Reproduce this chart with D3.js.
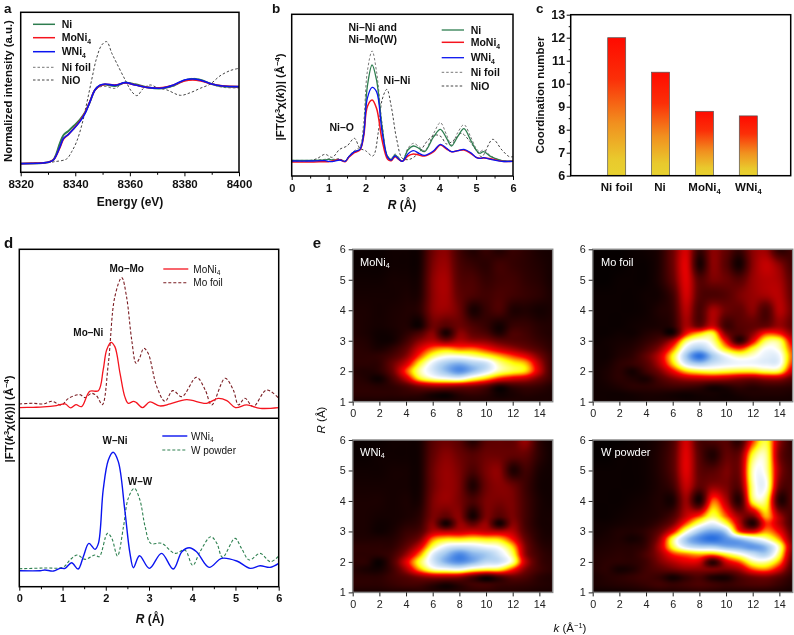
<!DOCTYPE html>
<html><head><meta charset="utf-8">
<script src="https://cdn.jsdelivr.net/npm/d3@7/dist/d3.min.js"></script>
<style>
html,body{margin:0;padding:0;background:#fff}
svg{display:block;font-family:"Liberation Sans",Arial,sans-serif;filter:blur(.3px)}
text{fill:#111}
</style></head><body><svg id="c" width="794" height="635"></svg>
<script>
// ---------- panel a ----------
const aEnergy=[8320,8328,8330,8332,8334.4,8335.7,8337.5,8339.3,8341.7,8343.6,8345.4,8347.2,8349,8350.9,8354.6,8358.3,8362,8367,8372,8376,8380,8383,8386,8390,8394,8400];
const aNi=[26,28,30,38,88,112,124,138,158,180,212,247,260,263,259,269,264,254,252,260,276,280,277,265,258,256];
const aMoNi4=[26,28,30,37,75,100,114,130,154,179,213,247,260,264,262,268,262,254,254,262,274,277,274,265,259,257];
const aWNi4=[26,28,30,37,77,102,114,129,152,177,212,247,261,265,261,269,262,254,253,262,277,280,276,265,259,257];
const aNiFoil=[26,28,30,38,88,112,124,138,158,180,212,245,256,258,252,271,262,255,253,258,276,282,278,264,255,253];
const aEnergyNiO=[8320,8330,8332.5,8336.8,8338.7,8340.5,8342.4,8344.2,8346,8347.8,8349.7,8351.5,8353.4,8355.2,8358.3,8360.7,8362.6,8365,8367.5,8370,8373.6,8378.5,8382.2,8385.8,8389.5,8393,8396.7,8400];
const aNiO=[26,29,32,40,62,92,142,207,277,342,382,392,357,327,277,242,230,252,262,254,247,231,239,252,265,289,305,312];
// ---------- panel b ----------
const bR=[0,.5,.9,1.0,1.1,1.3,1.45,1.55,1.7,1.85,1.95,2.05,2.18,2.3,2.45,2.6,2.7,2.8,2.9,3.0,3.15,3.3,3.45,3.6,3.85,4.03,4.2,4.33,4.5,4.67,4.85,5.0,5.1,5.2,5.4,5.7,6];
const bNi=[47,47,48,50,48,49,44,58,73,80,128,268,333,288,148,58,50,63,53,44,78,90,83,73,118,140,113,90,118,142,108,78,68,73,58,46,45];
const bMoNi4=[42,42,43,43,45,49,43,56,70,78,118,208,228,203,108,50,46,58,50,44,60,66,63,60,73,93,81,73,76,78,68,56,53,54,52,44,44];
const bWNi4=[45,45,46,44,43,48,44,58,73,80,123,233,266,253,133,56,48,60,51,44,66,76,68,62,76,95,83,73,76,80,70,56,53,55,50,44,44];
const bNiFoil=[47,47,50,52,50,52,44,60,76,88,158,313,375,313,158,60,53,66,56,44,83,98,88,76,128,160,123,93,130,154,118,83,73,78,60,46,45];
const bRNiO=[0,.5,.7,.9,1.1,1.3,1.5,1.7,1.85,2.0,2.2,2.35,2.45,2.58,2.7,2.85,3.0,3.2,3.45,3.7,3.9,4.05,4.2,4.4,4.6,4.8,5.0,5.15,5.45,5.7,5.9,6];
const bNiO=[45,46,53,65,56,80,90,113,83,76,60,133,228,260,208,108,53,50,70,108,123,118,96,108,128,108,78,58,110,78,58,58];
// ---------- panel c ----------
const cCategories=["Ni foil","Ni","MoNi4","WNi4"];
const cValues=[12,10.5,8.8,8.6];
// ---------- panel d ----------
const dRMoNi4=[0,.32,.56,.86,1.06,1.19,1.31,1.44,1.63,1.83,1.94,2.02,2.12,2.21,2.33,2.44,2.52,2.64,2.71,2.85,3.02,3.25,3.49,3.87,4.33,4.6,4.8,5.0,5.26,5.57,6];
const dMoNi4=[32,33,34,38,43,31,41,35,81,83,145,205,228,215,135,65,45,51,47,32,49,37,43,56,45,60,53,32,40,30,32];
const dRMoFoil=[0,.32,.56,.75,.98,1.13,1.40,1.52,1.67,1.79,1.92,2.06,2.21,2.37,2.48,2.6,2.7,2.78,2.88,2.98,3.18,3.37,3.55,3.76,4.1,4.3,4.45,4.76,4.95,5.07,5.22,5.41,5.72,6];
const dMoFoil=[43,45,43,51,40,59,71,62,75,67,41,165,365,422,365,235,165,180,210,195,95,51,83,65,123,85,40,120,85,40,60,35,85,60];
const dRWNi4=[0,.48,.59,.79,.94,1.06,1.21,1.36,1.48,1.61,1.75,1.83,1.94,2.06,2.17,2.29,2.44,2.56,2.64,2.78,3.01,3.29,3.56,3.76,3.93,4.1,4.39,4.68,5.03,5.34,5.57,5.8,6];
const dWNi4=[48,48,50,47,55,55,72,53,90,130,112,130,290,380,403,375,230,100,57,93,55,100,53,105,117,105,58,85,77,55,63,58,70];
const dRWPowder=[0,.56,1.02,1.17,1.34,1.52,1.75,1.85,2.04,2.14,2.27,2.41,2.52,2.66,2.79,2.91,3.04,3.29,3.6,3.83,4.01,4.18,4.43,4.57,4.7,4.99,5.14,5.32,5.57,5.81,6];
const dWPowder=[54,56,59,80,95,82,95,90,160,145,92,180,265,295,260,180,130,130,100,110,64,105,150,130,88,145,115,80,100,75,92];
// ---------- panel e ----------
const eK=[0,1,2,3,4,5,6,7,8,9,10,11,12,13,14,15];
const eR=[1,1.25,1.5,1.75,2,2.25,2.5,2.75,3,3.25,3.5,4,4.5,5,5.5,6];
const eMoNi4=[
[5,5,5,5,5,5,5,5,6,6,6,6,6,5,5,5],
[8,8,8,8,9,9,5,3,8,10,8,3,5,7,6,5],
[8,8,7,9,14,22,26,26,24,22,16,5,10,12,10,6],
[8,6,3,14,32,56,66,70,72,62,52,40,34,30,20,10],
[7,6,8,20,44,66,78,88,95,88,78,66,60,54,32,10],
[8,8,9,20,34,58,76,86,90,85,80,66,58,52,30,10],
[8,8,9,14,24,44,62,70,70,66,60,52,44,36,22,10],
[8,7,5,9,18,34,46,50,46,46,40,32,26,20,14,8],
[7,6,3,4,12,24,30,22,30,26,24,18,16,14,10,7],
[6,5,3,4,8,14,24,5,24,18,14,6,14,12,8,6],
[6,5,4,5,6,3,20,16,20,14,10,4,10,10,7,6],
[5,5,4,5,6,8,24,26,20,5,10,14,6,6,4,5],
[4,4,4,4,5,6,24,28,18,14,12,14,12,10,8,5],
[3,3,3,4,4,5,24,28,16,14,10,12,12,9,7,4],
[2,2,2,3,3,4,22,26,14,10,8,12,10,8,6,4],
[2,2,2,3,3,4,20,24,12,6,10,6,10,8,5,4]];
const eMoFoil=[
[3,3,3,3,4,4,4,3,3,3,3,3,4,4,4,4],
[3,3,3,4,5,5,4,3,4,4,3,5,6,6,6,5],
[3,4,6,8,8,10,12,12,10,5,7,10,8,10,10,8],
[3,5,8,6,5,14,22,28,30,30,28,24,22,26,26,16],
[3,5,8,4,12,22,38,54,60,62,60,58,58,62,60,32],
[3,4,8,10,16,30,54,78,86,80,76,74,74,76,74,42],
[3,3,6,9,18,32,58,86,100,86,74,66,70,76,74,46],
[3,3,5,7,13,24,46,76,85,74,54,42,58,72,68,42],
[2,3,4,5,9,15,30,62,72,66,38,8,36,62,62,34],
[2,2,3,3,6,8,4,38,52,58,22,14,24,42,40,24],
[2,2,2,3,4,5,8,28,18,32,12,16,18,18,26,18],
[2,2,2,2,3,6,10,30,14,28,20,18,24,14,30,20],
[2,2,2,2,3,4,12,34,16,14,16,22,26,28,30,18],
[1,1,2,2,2,6,18,36,16,22,20,16,26,30,28,16],
[1,1,1,2,2,6,20,36,5,24,16,4,24,32,24,12],
[1,1,1,2,3,6,20,34,10,24,18,10,24,26,8,12]];
const eWNi4=[
[5,5,5,6,6,7,6,6,7,8,8,7,7,6,5,5],
[8,8,8,10,12,12,8,4,8,12,12,10,10,9,7,6],
[8,8,8,12,16,22,26,26,24,14,4,12,18,14,8,6],
[7,5,4,12,28,50,66,70,72,64,60,58,42,22,12,8],
[8,8,2,14,36,60,78,90,95,90,82,80,66,30,12,8],
[8,8,8,12,26,48,76,88,96,90,86,78,62,24,11,7],
[8,8,8,9,18,34,62,76,80,78,74,70,54,22,9,6],
[6,6,6,7,13,22,48,56,56,58,56,54,40,18,7,5],
[5,5,3,5,10,14,30,30,32,34,32,30,30,14,6,4],
[5,5,3,4,7,10,24,4,26,18,26,4,24,12,5,4],
[5,5,4,4,5,8,22,18,24,4,22,16,22,12,5,4],
[5,5,5,4,5,5,22,26,22,14,22,22,22,12,5,3],
[4,4,4,4,4,4,20,26,22,6,20,24,20,11,4,3],
[3,3,3,4,4,4,20,26,22,14,22,24,6,12,5,3],
[2,2,3,3,3,4,18,24,20,16,20,20,18,18,8,3],
[2,2,2,3,3,4,16,20,16,6,16,18,18,26,8,3]];
const eWPowder=[
[3,3,3,4,5,6,6,7,8,7,6,6,6,6,5,4],
[5,6,7,8,10,12,10,12,14,12,10,12,14,14,10,6],
[5,7,8,10,12,10,4,10,14,6,5,14,20,22,16,8],
[6,8,4,6,12,16,20,24,24,22,22,28,44,48,34,12],
[6,8,8,8,12,22,30,36,34,8,34,46,64,66,50,16],
[6,7,8,8,14,26,42,48,52,50,60,70,80,84,62,20],
[5,6,7,7,11,30,60,78,84,85,90,92,94,88,66,24],
[4,5,6,4,9,26,62,86,96,100,95,88,78,68,50,20],
[3,4,6,6,9,18,38,68,86,92,84,44,35,50,38,16],
[3,3,4,5,6,11,22,46,66,76,62,32,6,42,30,12],
[2,2,3,4,5,7,14,32,44,62,46,26,22,52,28,12],
[2,2,2,3,4,6,5,26,5,46,30,8,60,62,8,16],
[2,2,2,2,3,6,12,32,18,24,22,18,66,72,20,14],
[2,2,2,2,3,7,16,36,18,16,22,22,68,68,26,12],
[1,1,2,2,3,7,16,36,16,6,18,20,60,66,22,10],
[1,1,1,2,3,6,14,34,14,14,16,8,42,60,26,8]];
const heatStops=[0,20,40,57,72,86,100];
const heatColors=["#000000","#6a0000","#ff0000","#ffff00","#ffffff","#a8ccf0","#2a70e0"];

const GREEN="#2e7d4f",RED="#f5141e",BLUE="#0a14f0",GREY="#777777",DARK="#444444",MAROON="#7a1c22",WGREEN="#2e8050";
const svg=d3.select("#c");
const line=(x,y)=>d3.line().x(d=>x(d[0])).y(d=>y(d[1])).curve(d3.curveCatmullRom.alpha(.5));
function curve(g,x,y,xs,ys,color,w,dash){
  g.append("path").datum(xs.map((v,i)=>[v,ys[i]])).attr("d",line(x,y)).attr("fill","none")
   .attr("stroke",color).attr("stroke-width",w).attr("stroke-dasharray",dash||null);
}
function label(x,y,str,opt={}){
  const t=svg.append("text").attr("x",x).attr("y",y).attr("text-anchor",opt.a||"start")
    .attr("font-size",opt.s||10.5).attr("font-weight",opt.w||"normal");
  if(opt.fill)t.style("fill",opt.fill);
  if(opt.rot!=null)t.attr("transform",`rotate(${opt.rot} ${x} ${y})`);
  (Array.isArray(str)?str:[[str]]).forEach(p=>{
    const s=t.append("tspan").text(p[0]);
    if(p[1]&&p[1].includes("i"))s.attr("font-style","italic");
    if(p[1]=="sub"){s.attr("font-size",(opt.s||10.5)*.65).attr("dy",2.5);}
    if(p[1]=="sup"){s.attr("font-size",(opt.s||10.5)*.65).attr("dy",-4);}
    if(p[2])s.attr("dy",p[2]);
  });
  return t;
}
function frame(x0,y0,x1,y1,c="#000",w=1.5){
  svg.append("rect").attr("x",x0).attr("y",y0).attr("width",x1-x0).attr("height",y1-y0)
   .attr("fill","none").attr("stroke",c).attr("stroke-width",w);
}
function bottomAxis(x,yPos,major,minor,fs,weight,pad){
  const g=svg.append("g").attr("transform",`translate(0,${yPos})`);
  g.call(d3.axisBottom(x).tickValues(minor).tickSize(2.5).tickFormat(""));
  const m=svg.append("g").attr("transform",`translate(0,${yPos})`);
  m.call(d3.axisBottom(x).tickValues(major).tickSize(4).tickPadding(pad).tickFormat(d3.format("d")));
  m.selectAll("text").attr("font-size",fs).attr("font-weight",weight).attr("font-family",'"Liberation Sans"').style("fill","#111");
  [g,m].forEach(a=>{a.select(".domain").remove();a.selectAll("line").attr("stroke","#000").attr("stroke-width",1)});
}
function leg(x0,x1,tx,y,color,w,dash,parts,weight,s){
  svg.append("line").attr("x1",x0).attr("x2",x1).attr("y1",y).attr("y2",y).attr("stroke",color).attr("stroke-width",w).attr("stroke-dasharray",dash||null);
  label(tx,y+3.7,parts,{w:weight,s:s||10.5});
}
const SUB4=n=>[[n],["4","sub"]];
const D1="2.5 2", D2="3 2";
const FTLABEL=[["|FT("],["k","i"],["3","sup"],["χ",null,4],["(",null],["k","i"],["))| (Å"],["−4","sup"],[")",null,4]];

// panel a
{
 const x=d3.scaleLinear().domain([8320,8400]).range([20.7,239]);
 const y=d3.scaleLinear().domain([0,480]).range([172.3,12.3]);
 const g=svg.append("g");
 curve(g,x,y,aEnergy,aNiFoil,GREY,1,D1);
 curve(g,x,y,aEnergyNiO,aNiO,DARK,1,D1);
 curve(g,x,y,aEnergy,aNi,GREEN,1.9);
 curve(g,x,y,aEnergy,aMoNi4,RED,1.7);
 curve(g,x,y,aEnergy,aWNi4,BLUE,1.6);
 frame(20.7,12.3,239,172.3);
 bottomAxis(x,172.3,[8320,8340,8360,8380,8400],[8330,8350,8370,8390],11.5,"bold",4);
 label(4,12.5,"a",{w:"bold",s:13.5});
 label(130,206,"Energy (eV)",{a:"middle",w:"bold",s:12});
 label(12,91,"Normalized intensity (a.u.)",{a:"middle",w:"bold",s:11.4,rot:-90});
 leg(33,55,61.7,24.3,GREEN,1.5,null,"Ni","bold");
 leg(33,55,61.7,37.7,RED,1.5,null,SUB4("MoNi"),"bold");
 leg(33,55,61.7,51.7,BLUE,1.5,null,SUB4("WNi"),"bold");
 leg(33,55,61.7,67.3,GREY,1,D1,"Ni foil","bold");
 leg(33,55,61.7,80,DARK,1,D1,"NiO","bold");
}
// panel b
{
 const x=d3.scaleLinear().domain([0,6]).range([291.7,513]);
 const y=d3.scaleLinear().domain([0,485]).range([176,14.3]);
 const g=svg.append("g");
 curve(g,x,y,bR,bNiFoil,GREY,1,D1);
 curve(g,x,y,bRNiO,bNiO,DARK,1,D1);
 curve(g,x,y,bR,bNi,GREEN,1.3);
 curve(g,x,y,bR,bMoNi4,RED,1.5);
 curve(g,x,y,bR,bWNi4,BLUE,1.3);
 frame(291.7,14.3,513,176);
 bottomAxis(x,176,[0,1,2,3,4,5,6],[.5,1.5,2.5,3.5,4.5,5.5],11,"bold",4);
 label(272,12.5,"b",{w:"bold",s:13.5});
 label(402,209,[["R","i"],[" (Å)"]],{a:"middle",w:"bold",s:12});
 label(284,97,FTLABEL,{a:"middle",w:"bold",s:11.5,rot:-90});
 label(372.7,30.7,"Ni–Ni and",{a:"middle",w:"bold",s:10.5});
 label(372.7,43,"Ni–Mo(W)",{a:"middle",w:"bold",s:10.5});
 label(397,84,"Ni–Ni",{a:"middle",w:"bold",s:10.5});
 label(341.7,131,"Ni–O",{a:"middle",w:"bold",s:10.5});
 leg(441.7,464,470.7,30,GREEN,1.3,null,"Ni","bold");
 leg(441.7,464,470.7,42.3,RED,1.5,null,SUB4("MoNi"),"bold");
 leg(441.7,464,470.7,57.7,BLUE,1.3,null,SUB4("WNi"),"bold");
 leg(441.7,464,470.7,72.3,GREY,1,D1,"Ni foil","bold");
 leg(441.7,464,470.7,86,DARK,1,D1,"NiO","bold");
}
// panel c
{
 const x=d3.scalePoint().domain(cCategories).range([616.7,748.3]);
 const y=d3.scaleLinear().domain([6,13]).range([175.7,14.7]);
 const grad=svg.append("defs").append("linearGradient").attr("id","barG").attr("x1",0).attr("x2",0).attr("y1",0).attr("y2",1);
 [[0,"#ff0a00"],[.3,"#fb2f08"],[.62,"#f1901f"],[.88,"#e9c92d"],[1,"#e8d230"]].forEach(s=>grad.append("stop").attr("offset",s[0]).attr("stop-color",s[1]));
 svg.selectAll(".bar").data(cCategories).join("rect").attr("x",d=>x(d)-9).attr("width",18)
   .attr("y",(d,i)=>y(cValues[i])).attr("height",(d,i)=>y(6)-y(cValues[i]))
   .attr("fill","url(#barG)").attr("stroke","#555").attr("stroke-width",.7);
 frame(570.7,14.7,790.7,175.7);
 const ax=svg.append("g").attr("transform","translate(570.7,0)");
 ax.call(d3.axisLeft(y).tickValues(d3.range(6,14)).tickSize(4).tickPadding(1.5).tickFormat(d3.format("d")));
 ax.selectAll("text").attr("font-size",12.5).attr("font-family",'"Liberation Sans"').attr("font-weight","bold").style("fill","#111");
 ax.select(".domain").remove();ax.selectAll("line").attr("stroke","#000");
 const ax2=svg.append("g").attr("transform","translate(570.7,0)");
 ax2.call(d3.axisLeft(y).tickValues(d3.range(6.5,13,1)).tickSize(2).tickFormat(""));
 ax2.select(".domain").remove();ax2.selectAll("line").attr("stroke","#000");
 label(536,12.5,"c",{w:"bold",s:13.5});
 label(544.3,95,"Coordination number",{a:"middle",w:"bold",s:11.5,rot:-90});
 cCategories.forEach(c=>{
   const parts=c.endsWith("4")?SUB4(c.slice(0,-1)):c;
   label(x(c)-(c=="Ni"?.5:0),191,parts,{a:"middle",w:"bold",s:11.5});
 });
}
// panel d
{
 const x=d3.scaleLinear().domain([0,6]).range([19.3,278.7]);
 const yU=d3.scaleLinear().domain([0,507]).range([418.3,249.3]);
 const yL=d3.scaleLinear().domain([0,505]).range([586.7,418.3]);
 const g=svg.append("g");
 curve(g,x,yU,dRMoFoil,dMoFoil,MAROON,1.1,D2);
 curve(g,x,yU,dRMoNi4,dMoNi4,RED,1.3);
 curve(g,x,yL,dRWPowder,dWPowder,WGREEN,1.1,D2);
 curve(g,x,yL,dRWNi4,dWNi4,BLUE,1.4);
 frame(19.3,249.3,278.7,586.7);
 svg.append("line").attr("x1",19.3).attr("x2",278.7).attr("y1",418.3).attr("y2",418.3).attr("stroke","#000").attr("stroke-width",1.5);
 bottomAxis(x,586.7,[0,1,2,3,4,5,6],[.5,1.5,2.5,3.5,4.5,5.5],11,"bold",4);
 label(4,248,"d",{w:"bold",s:15});
 label(150,623,[["R","i"],[" (Å)"]],{a:"middle",w:"bold",s:12});
 label(12.5,419,FTLABEL,{a:"middle",w:"bold",s:11.5,rot:-90});
 label(126.7,271.5,"Mo–Mo",{a:"middle",w:"bold",s:10});
 label(88.3,336,"Mo–Ni",{a:"middle",w:"bold",s:10});
 label(115,443.5,"W–Ni",{a:"middle",w:"bold",s:10});
 label(140,485,"W–W",{a:"middle",w:"bold",s:10});
 leg(163.3,188.3,193.3,269,RED,1.3,null,SUB4("MoNi"),"normal",10);
 leg(163.3,188.3,193.3,282.7,MAROON,1.1,D2,"Mo foil","normal",10);
 leg(162.3,187.3,191,436,BLUE,1.4,null,SUB4("WNi"),"normal",10);
 leg(162.3,187.3,191,450,WGREEN,1.1,D2,"W powder","normal",10);
}
// panel e
{
 const color=d3.scaleLinear().domain(heatStops).range(heatColors).clamp(true);
 const cr=(a,b,c,d,t)=>b+.5*t*(c-a+t*(2*a-5*b+4*c-d+t*(3*(b-c)+d-a)));
 const rowIdx=d3.scaleLinear().domain(eR).range(d3.range(eR.length));
 const colIdx=d3.scaleLinear().domain(eK).range(d3.range(eK.length));
 function sample(grid,k,r){
   const fx=Math.min(colIdx(k),eK.length-1.0001),fy=Math.min(rowIdx(r),eR.length-1.0001);
   const ix=Math.floor(fx),iy=Math.floor(fy),tx=fx-ix,ty=fy-iy;
   const G=(j,i)=>grid[Math.max(0,Math.min(eR.length-1,j))][Math.max(0,Math.min(eK.length-1,i))];
   const col=[-1,0,1,2].map(dj=>cr(G(iy+dj,ix-1),G(iy+dj,ix),G(iy+dj,ix+1),G(iy+dj,ix+2),tx));
   return cr(col[0],col[1],col[2],col[3],ty);
 }
 const panels=[
  {grid:eMoNi4,x0:352.7,y0:249.3,name:SUB4("MoNi"),tx:360,ty:265.7},
  {grid:eMoFoil,x0:592.7,y0:249.3,name:"Mo foil",tx:601,ty:265.5},
  {grid:eWNi4,x0:352.7,y0:440,name:SUB4("WNi"),tx:360,ty:455.7},
  {grid:eWPowder,x0:592.7,y0:440,name:"W powder",tx:601,ty:455.7}];
 panels.forEach(p=>{
  const W=200,H=152.4;
  const x=d3.scaleLinear().domain([0,15]).range([p.x0,p.x0+W]);
  const y=d3.scaleLinear().domain([1,6]).range([p.y0+H,p.y0]);
  const cv=document.createElement("canvas");cv.width=Math.round(W);cv.height=Math.round(H);
  const ctx=cv.getContext("2d"),img=ctx.createImageData(cv.width,cv.height);
  const kOf=d3.scaleLinear().domain([0,cv.width]).range(x.domain());
  const rOf=d3.scaleLinear().domain([0,cv.height]).range([6,1]);
  for(let j=0;j<cv.height;j++)for(let i=0;i<cv.width;i++){
    const v=sample(p.grid,kOf(i+.5),rOf(j+.5));
    const c=d3.rgb(color(v)),o=(j*cv.width+i)*4;
    img.data[o]=c.r;img.data[o+1]=c.g;img.data[o+2]=c.b;img.data[o+3]=255;
  }
  ctx.putImageData(img,0,0);
  svg.append("image").attr("href",cv.toDataURL()).attr("x",p.x0).attr("y",p.y0).attr("width",W).attr("height",H).attr("preserveAspectRatio","none");
  frame(p.x0,p.y0,p.x0+W,p.y0+H,"#8a8a8a",1.5);
  const bx=svg.append("g").attr("transform",`translate(0,${p.y0+H})`);
  bx.call(d3.axisBottom(x).tickValues(d3.range(0,15,2)).tickSize(4).tickPadding(4).tickFormat(d3.format("d")));
  const ly=svg.append("g").attr("transform",`translate(${p.x0},0)`);
  ly.call(d3.axisLeft(y).tickValues([1,2,3,4,5,6]).tickSize(4).tickPadding(3).tickFormat(d3.format("d")));
  [bx,ly].forEach(a=>{a.select(".domain").remove();a.selectAll("line").attr("stroke","#222");
    a.selectAll("text").attr("font-size",10.8).attr("font-family",'"Liberation Sans"').style("fill","#222");});
  label(p.tx,p.ty,p.name,{s:11,fill:"#ffffff"});
 });
 label(312.7,248,"e",{w:"bold",s:15});
 label(325,420,[["R","i"],[" (Å)"]],{a:"middle",s:11.5,rot:-90});
 label(570,632,[["k","i"],[" (Å"],["−1","sup"],[")",null,4]],{a:"middle",s:11.5});
}
</script></body></html>
